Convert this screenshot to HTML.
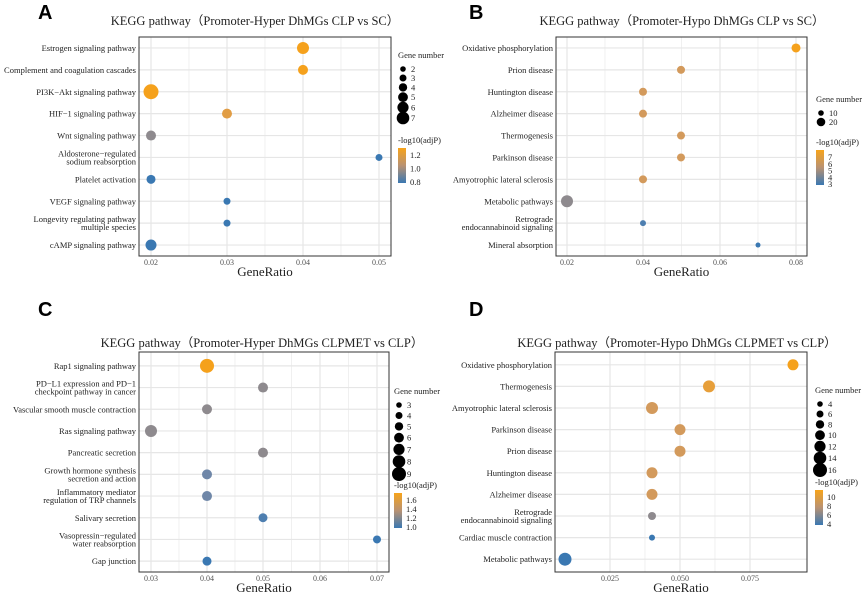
<!DOCTYPE html>
<html><head><meta charset="utf-8"><style>
body{margin:0;background:#fff;}
svg text{font-family:"Liberation Serif",serif;fill:#222;}
.lab{font-family:"Liberation Sans",sans-serif;font-weight:bold;font-size:20px;fill:#000;}
</style></head><body>
<svg id="s" width="866" height="593" xmlns="http://www.w3.org/2000/svg"></svg>
<script>
const O='#f5a11c',T='#d39a5c',G='#8e8a8e',B='#3a78b2',LB='#4e7fb0';
const panels=[
{L:'A',lx:38,ly:19,title:'KEGG pathway（Promoter-Hyper DhMGs CLP vs SC）',tx:255,ty:25,
 x0:139,x1:391,y0:37,y1:256,by:37,ticks:[[0.02,151,'0.02'],[0.03,227,'0.03'],[0.04,303,'0.04'],[0.05,379,'0.05']],
 rows:[['Estrogen signaling pathway',303,6,O],['Complement and coagulation cascades',303,5,O],['PI3K−Akt signaling pathway',151,7.5,O],['HIF−1 signaling pathway',227,5,'#e19d45'],['Wnt signaling pathway',151,5,G],['Aldosterone−regulated|sodium reabsorption',379,3.5,B],['Platelet activation',151,4.5,B],['VEGF signaling pathway',227,3.5,B],['Longevity regulating pathway|multiple species',227,3.5,B],['cAMP signaling pathway',151,5.5,B]],
 leg:{x:398,y:58,sizes:['2','3','4','5','6','7'],cb:['1.2','1.0','0.8'],cy:143}},
{L:'B',lx:469,ly:19,title:'KEGG pathway（Promoter-Hypo DhMGs CLP vs SC）',tx:682,ty:25,
 x0:556,x1:807,y0:37,y1:256,by:37,ticks:[[0,567,'0.02'],[0,643,'0.04'],[0,720,'0.06'],[0,796,'0.08']],
 rows:[['Oxidative phosphorylation',796,4.5,O],['Prion disease',681,4,T],['Huntington disease',643,4,T],['Alzheimer disease',643,4,T],['Thermogenesis',681,4,T],['Parkinson disease',681,4,T],['Amyotrophic lateral sclerosis',643,4,T],['Metabolic pathways',567,6,G],['Retrograde|endocannabinoid signaling',643,3,LB],['Mineral absorption',758,2.5,B]],
 leg:{x:816,y:102,sizes:['10','20'],cb:['7','6','5','4','3'],cy:145}},
{L:'C',lx:38,ly:316,title:'KEGG pathway（Promoter-Hyper DhMGs CLPMET vs CLP）',tx:262,ty:347,
 x0:139,x1:389,y0:355,y1:572,by:352,ticks:[[0,151,'0.03'],[0,207,'0.04'],[0,263,'0.05'],[0,320,'0.06'],[0,377,'0.07']],
 rows:[['Rap1 signaling pathway',207,7,O],['PD−L1 expression and PD−1|checkpoint pathway in cancer',263,5,G],['Vascular smooth muscle contraction',207,5,G],['Ras signaling pathway',151,6,G],['Pancreatic secretion',263,5,G],['Growth hormone synthesis|secretion and action',207,5,'#6f87a8'],['Inflammatory mediator|regulation of TRP channels',207,5,'#6f87a8'],['Salivary secretion',263,4.5,LB],['Vasopressin−regulated|water reabsorption',377,4,B],['Gap junction',207,4.5,B]],
 leg:{x:394,y:394,sizes:['3','4','5','6','7','8','9'],cb:['1.6','1.4','1.2','1.0'],cy:488,sp:10.5}},
{L:'D',lx:469,ly:316,title:'KEGG pathway（Promoter-Hypo DhMGs CLPMET vs CLP）',tx:677,ty:347,
 x0:555,x1:807,y0:354,y1:570,by:352,yb:572,ticks:[[0,610,'0.025'],[0,680,'0.050'],[0,750,'0.075']],
 rows:[['Oxidative phosphorylation',793,5.5,O],['Thermogenesis',709,6,'#e79f3a'],['Amyotrophic lateral sclerosis',652,6,T],['Parkinson disease',680,5.5,T],['Prion disease',680,5.5,T],['Huntington disease',652,5.5,T],['Alzheimer disease',652,5.5,T],['Retrograde|endocannabinoid signaling',652,4,G],['Cardiac muscle contraction',652,3,B],['Metabolic pathways',565,6.5,B]],
 leg:{x:815,y:393,sizes:['4','6','8','10','12','14','16'],cb:['10','8','6','4'],cy:485,sp:10}}
];
let h='<defs><linearGradient id="g" x1="0" y1="0" x2="0" y2="1"><stop offset="0" stop-color="#f7a41a"/><stop offset="0.5" stop-color="#b99272"/><stop offset="1" stop-color="#3a78b2"/></linearGradient></defs>';
for(const p of panels){
 const yb=p.yb||p.y1;
 h+=`<text class="lab" x="${p.lx}" y="${p.ly}">${p.L}</text>`;
 h+=`<text x="${p.tx}" y="${p.ty}" font-size="12.5" text-anchor="middle">${p.title}</text>`;
 const n=p.rows.length, step=(p.y1-p.y0)/n;
 const tx=p.ticks.map(t=>t[1]);
 for(let i=0;i<tx.length;i++){
  h+=`<line x1="${tx[i]}" x2="${tx[i]}" y1="${p.by}" y2="${yb}" stroke="#e6e6e6" stroke-width="1.2"/>`;
  if(i<tx.length-1){const m=(tx[i]+tx[i+1])/2;h+=`<line x1="${m}" x2="${m}" y1="${p.by}" y2="${yb}" stroke="#ececec" stroke-width="0.8"/>`;}
 }
 p.rows.forEach((r,i)=>{
  const y=p.y0+step*(i+0.5);
  h+=`<line x1="${p.x0}" x2="${p.x1}" y1="${y}" y2="${y}" stroke="#e6e6e6" stroke-width="1.2"/>`;
 });
 h+=`<rect x="${p.x0}" y="${p.by}" width="${p.x1-p.x0}" height="${yb-p.by}" fill="none" stroke="#333" stroke-width="1"/>`;
 p.rows.forEach((r,i)=>{
  const y=p.y0+step*(i+0.5);
  const parts=r[0].split('|');
  if(parts.length==1)h+=`<text x="${p.x0-3}" y="${y+3}" font-size="8.5" text-anchor="end">${parts[0]}</text>`;
  else{h+=`<text x="${p.x0-3}" y="${y-1}" font-size="8.5" text-anchor="end">${parts[0]}</text><text x="${p.x0-3}" y="${y+7}" font-size="8.5" text-anchor="end">${parts[1]}</text>`;}
  h+=`<circle cx="${r[1]}" cy="${y}" r="${r[2]}" fill="${r[3]}"/>`;
 });
 for(const t of p.ticks)h+=`<text x="${t[1]}" y="${yb+9}" font-size="8" text-anchor="middle" style="fill:#555">${t[2]}</text>`;
 h+=`<text x="${(p.x0+p.x1)/2}" y="${yb+20}" font-size="13" text-anchor="middle">GeneRatio</text>`;
 const L=p.leg;
 h+=`<text x="${L.x}" y="${L.y}" font-size="8.5">Gene number</text>`;
 let yy=L.y+11;
 L.sizes.forEach((s,i)=>{const r=2.8+i*(L.sizes.length>2?0.7:1.5);h+=`<circle cx="${L.x+5}" cy="${yy}" r="${r}" fill="#000"/><text x="${L.x+13}" y="${yy+3}" font-size="8.5">${s}</text>`;yy+=(L.sp||9)+i*0.4;});
 h+=`<text x="${L.x}" y="${L.cy}" font-size="8.5">-log10(adjP)</text>`;
 h+=`<rect x="${L.x}" y="${L.cy+5}" width="8" height="35" fill="url(#g)"/>`;
 L.cb.forEach((c,i)=>{const y=L.cy+12+i*(27/Math.max(1,L.cb.length-1));h+=`<text x="${L.x+12}" y="${y+3}" font-size="8.5">${c}</text>`;});
}
document.getElementById('s').innerHTML=h;
</script>
</body></html>
